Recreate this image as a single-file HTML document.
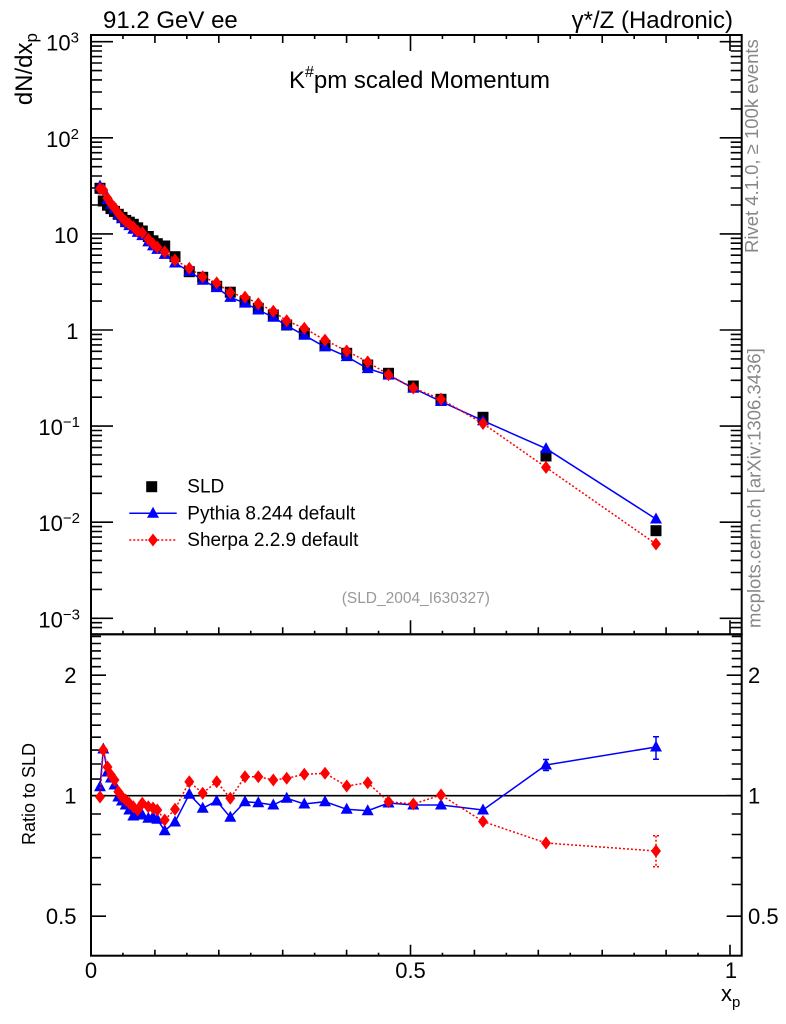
<!DOCTYPE html>
<html><head><meta charset="utf-8"><style>
html,body{margin:0;padding:0;background:#fff;}
svg{display:block;font-family:"Liberation Sans",Arial,sans-serif;}
</style></head><body>
<svg width="786" height="1024" viewBox="0 0 786 1024" xmlns="http://www.w3.org/2000/svg">
<defs>
<path id="sq" d="M-5.5,-5.5h11v11h-11z" fill="#000"/>
<path id="tr" d="M0,-6.5L6,4.5L-6,4.5Z" fill="#00f"/>
<path id="dm" d="M0,-6.5L5,0L0,6.5L-5,0Z" fill="#f00"/>
</defs>
<rect width="786" height="1024" fill="#fff"/>

<!-- top texts -->
<text x="103" y="28" font-size="24">91.2 GeV ee</text>
<text x="733" y="28" font-size="24" text-anchor="end">γ*/Z (Hadronic)</text>
<text x="289" y="88" font-size="24">K<tspan font-size="16" dy="-11">#</tspan><tspan font-size="24" dy="11">pm scaled Momentum</tspan></text>

<!-- side texts -->
<text transform="translate(32,33) rotate(-90)" text-anchor="end" font-size="24">dN/dx<tspan font-size="17" dy="5">p</tspan></text>
<text transform="translate(35,794) rotate(-90)" text-anchor="middle" font-size="18">Ratio to SLD</text>
<text transform="translate(758,253) rotate(-90)" font-size="18.5" fill="#888">Rivet 4.1.0, ≥ 100k events</text>
<text transform="translate(760.5,628) rotate(-90)" font-size="18.5" fill="#888">mcplots.cern.ch [arXiv:1306.3436]</text>

<!-- frames -->
<rect x="91" y="35" width="650.7" height="599.3" fill="none" stroke="#000" stroke-width="2"/>
<rect x="91" y="634.3" width="650.7" height="321.4" fill="none" stroke="#000" stroke-width="2"/>

<!-- main y ticks -->
<g stroke="#000" stroke-width="1.6" fill="none">
<path d="M91 41.7h22M91 137.8h22M91 233.9h22M91 330h22M91 426.1h22M91 522.2h22M91 618.3h22
M741.7 41.7h-22M741.7 137.8h-22M741.7 233.9h-22M741.7 330h-22M741.7 426.1h-22M741.7 522.2h-22M741.7 618.3h-22"/>
<path d="M91 46.1h11M91 51h11M91 56.6h11M91 63h11M91 70.6h11M91 79.9h11M91 92h11M91 108.9h11
M91 142.2h11M91 147.1h11M91 152.7h11M91 159.1h11M91 166.7h11M91 176h11M91 188h11M91 205h11
M91 238.3h11M91 243.2h11M91 248.8h11M91 255.2h11M91 262.8h11M91 272.1h11M91 284.2h11M91 301.1h11
M91 334.4h11M91 339.3h11M91 344.9h11M91 351.3h11M91 358.9h11M91 368.2h11M91 380.3h11M91 397.2h11
M91 430.5h11M91 435.4h11M91 441h11M91 447.4h11M91 455h11M91 464.3h11M91 476.4h11M91 493.3h11
M91 526.6h11M91 531.5h11M91 537.1h11M91 543.5h11M91 551.1h11M91 560.4h11M91 572.5h11M91 589.4h11
M91 622.7h11M91 627.6h11"/>
<path d="M741.7 46.1h-11M741.7 51h-11M741.7 56.6h-11M741.7 63h-11M741.7 70.6h-11M741.7 79.9h-11M741.7 92h-11M741.7 108.9h-11
M741.7 142.2h-11M741.7 147.1h-11M741.7 152.7h-11M741.7 159.1h-11M741.7 166.7h-11M741.7 176h-11M741.7 188h-11M741.7 205h-11
M741.7 238.3h-11M741.7 243.2h-11M741.7 248.8h-11M741.7 255.2h-11M741.7 262.8h-11M741.7 272.1h-11M741.7 284.2h-11M741.7 301.1h-11
M741.7 334.4h-11M741.7 339.3h-11M741.7 344.9h-11M741.7 351.3h-11M741.7 358.9h-11M741.7 368.2h-11M741.7 380.3h-11M741.7 397.2h-11
M741.7 430.5h-11M741.7 435.4h-11M741.7 441h-11M741.7 447.4h-11M741.7 455h-11M741.7 464.3h-11M741.7 476.4h-11M741.7 493.3h-11
M741.7 526.6h-11M741.7 531.5h-11M741.7 537.1h-11M741.7 543.5h-11M741.7 551.1h-11M741.7 560.4h-11M741.7 572.5h-11M741.7 589.4h-11
M741.7 622.7h-11M741.7 627.6h-11"/>
<!-- main x ticks top -->
<path d="M122.95 35v4M154.9 35v8M186.85 35v4M218.8 35v8M250.75 35v4M282.7 35v8M314.65 35v4M346.6 35v8M378.55 35v4M410.5 35v16
M442.45 35v4M474.4 35v8M506.35 35v4M538.3 35v8M570.25 35v4M602.2 35v8M634.15 35v4M666.1 35v8M698.05 35v4M730 35v16"/>
<!-- main x ticks bottom -->
<path d="M122.95 634.3v-3.5M154.9 634.3v-7M186.85 634.3v-3.5M218.8 634.3v-7M250.75 634.3v-3.5M282.7 634.3v-7M314.65 634.3v-3.5M346.6 634.3v-7M378.55 634.3v-3.5M410.5 634.3v-14
M442.45 634.3v-3.5M474.4 634.3v-7M506.35 634.3v-3.5M538.3 634.3v-7M570.25 634.3v-3.5M602.2 634.3v-7M634.15 634.3v-3.5M666.1 634.3v-7M698.05 634.3v-3.5M730 634.3v-14"/>
<!-- ratio x ticks bottom -->
<path d="M122.95 955.7v-3M154.9 955.7v-6M186.85 955.7v-3M218.8 955.7v-6M250.75 955.7v-3M282.7 955.7v-6M314.65 955.7v-3M346.6 955.7v-6M378.55 955.7v-3M410.5 955.7v-11
M442.45 955.7v-3M474.4 955.7v-6M506.35 955.7v-3M538.3 955.7v-6M570.25 955.7v-3M602.2 955.7v-6M634.15 955.7v-3M666.1 955.7v-6M698.05 955.7v-3M730 955.7v-11"/>
<!-- ratio y ticks -->
<path d="M91 675.2h15M91 795.7h15M91 916.2h15M741.7 675.2h-15M741.7 795.7h-15M741.7 916.2h-15"/>
<path d="M91 636.4h10M91 643.5h10M91 650.9h10M91 658.6h10M91 666.7h10M91 684.1h10M91 693.5h10M91 703.5h10M91 714h10M91 725.2h10M91 737.2h10M91 750.1h10M91 764h10M91 779.1h10M91 814h10M91 834.5h10M91 857.7h10M91 884.5h10
M741.7 636.4h-10M741.7 643.5h-10M741.7 650.9h-10M741.7 658.6h-10M741.7 666.7h-10M741.7 684.1h-10M741.7 693.5h-10M741.7 703.5h-10M741.7 714h-10M741.7 725.2h-10M741.7 737.2h-10M741.7 750.1h-10M741.7 764h-10M741.7 779.1h-10M741.7 814h-10M741.7 834.5h-10M741.7 857.7h-10M741.7 884.5h-10"/>
</g>

<!-- main y labels -->
<g font-size="22" text-anchor="end">
<text x="79" y="50.7">10<tspan font-size="15" dy="-8">3</tspan></text>
<text x="79" y="146.8">10<tspan font-size="15" dy="-8">2</tspan></text>
<text x="78.5" y="242.9">10</text>
<text x="78.5" y="339">1</text>
<text x="80" y="435.1">10<tspan font-size="15" dy="-8">−1</tspan></text>
<text x="80" y="531.2">10<tspan font-size="15" dy="-8">−2</tspan></text>
<text x="80" y="627.3">10<tspan font-size="15" dy="-8">−3</tspan></text>
<!-- ratio left labels -->
<text x="76.5" y="683.2">2</text>
<text x="76.5" y="803.7">1</text>
<text x="76.5" y="924.2">0.5</text>
</g>
<g font-size="22">
<text x="748" y="683.2">2</text>
<text x="748" y="803.7">1</text>
<text x="748" y="924.2">0.5</text>
</g>
<g font-size="22" text-anchor="middle">
<text x="91" y="978">0</text>
<text x="410.5" y="978">0.5</text>
<text x="731" y="978">1</text>
</g>
<text x="721" y="1001" font-size="22">x<tspan font-size="15" dy="6">p</tspan></text>

<!-- legend -->
<use href="#sq" x="151.7" y="486.7"/>
<text x="187.3" y="492.7" font-size="19">SLD</text>
<path d="M129.3 513.3H176.7" stroke="#00f" stroke-width="1.5"/>
<use href="#tr" x="153" y="513.3"/>
<text x="187.3" y="519.3" font-size="19">Pythia 8.244 default</text>
<path d="M129.3 540H176.7" stroke="#f00" stroke-width="1.5" stroke-dasharray="2,2"/>
<use href="#dm" x="153" y="540"/>
<text x="187.3" y="546" font-size="19">Sherpa 2.2.9 default</text>
<text x="341.7" y="603" font-size="15.5" fill="#999">(SLD_2004_I630327)</text>

<!-- main panel: SLD squares -->
<g>
<use href="#sq" x="100" y="188.3"/><use href="#sq" x="103.3" y="201"/><use href="#sq" x="107.5" y="205.2"/><use href="#sq" x="111" y="208.6"/>
<use href="#sq" x="114.5" y="211.4"/><use href="#sq" x="118.3" y="214.3"/><use href="#sq" x="122" y="217.4"/><use href="#sq" x="125.7" y="220.4"/>
<use href="#sq" x="129.3" y="222.2"/><use href="#sq" x="133.3" y="224.3"/><use href="#sq" x="137.7" y="227.8"/><use href="#sq" x="142.3" y="231"/>
<use href="#sq" x="148.3" y="236.5"/><use href="#sq" x="153" y="240.8"/><use href="#sq" x="157.3" y="243.7"/><use href="#sq" x="164.7" y="246"/>
<use href="#sq" x="175" y="256.7"/><use href="#sq" x="189.3" y="271.7"/><use href="#sq" x="202.7" y="277.3"/><use href="#sq" x="216.7" y="286.3"/>
<use href="#sq" x="230.3" y="292.2"/><use href="#sq" x="245" y="301.7"/><use href="#sq" x="258.3" y="308.3"/><use href="#sq" x="273.3" y="315"/>
<use href="#sq" x="286.7" y="325"/><use href="#sq" x="304.3" y="333.3"/><use href="#sq" x="325" y="345.5"/><use href="#sq" x="346.7" y="353.3"/>
<use href="#sq" x="367.7" y="365"/><use href="#sq" x="388.5" y="373.3"/><use href="#sq" x="413.3" y="386"/><use href="#sq" x="441" y="399.3"/>
<use href="#sq" x="483" y="417.3"/><use href="#sq" x="546" y="456"/><use href="#sq" x="656" y="530.7"/>
</g>

<!-- main panel: Pythia -->
<polyline fill="none" stroke="#00f" stroke-width="1.5" points="100,186.1 103.3,189.8 107.5,199.5 111,204.4 114.5,208.8 118.3,214.6 122,218.7 125.7,222.6 129.3,225.6 133.3,229.2 137.7,232.4 142.3,235.6 148.3,241.9 153,245.9 157.3,249.4 164.7,254.4 175,263 189.3,271.4 202.7,280.3 216.7,287.6 230.3,297.4 245,303.1 258.3,310 273.3,317.2 286.7,325.6 304.3,335.3 325,346.9 346.7,356.6 367.7,368.6 388.5,375.1 413.3,388.2 441,401.5 483,420.7 546,448.6 656,519"/>
<g>
<use href="#tr" x="100" y="186.1"/><use href="#tr" x="103.3" y="189.8"/><use href="#tr" x="107.5" y="199.5"/><use href="#tr" x="111" y="204.4"/>
<use href="#tr" x="114.5" y="208.8"/><use href="#tr" x="118.3" y="214.6"/><use href="#tr" x="122" y="218.7"/><use href="#tr" x="125.7" y="222.6"/>
<use href="#tr" x="129.3" y="225.6"/><use href="#tr" x="133.3" y="229.2"/><use href="#tr" x="137.7" y="232.4"/><use href="#tr" x="142.3" y="235.6"/>
<use href="#tr" x="148.3" y="241.9"/><use href="#tr" x="153" y="245.9"/><use href="#tr" x="157.3" y="249.4"/><use href="#tr" x="164.7" y="254.4"/>
<use href="#tr" x="175" y="263"/><use href="#tr" x="189.3" y="271.4"/><use href="#tr" x="202.7" y="280.3"/><use href="#tr" x="216.7" y="287.6"/>
<use href="#tr" x="230.3" y="297.4"/><use href="#tr" x="245" y="303.1"/><use href="#tr" x="258.3" y="310"/><use href="#tr" x="273.3" y="317.2"/>
<use href="#tr" x="286.7" y="325.6"/><use href="#tr" x="304.3" y="335.3"/><use href="#tr" x="325" y="346.9"/><use href="#tr" x="346.7" y="356.6"/>
<use href="#tr" x="367.7" y="368.6"/><use href="#tr" x="388.5" y="375.1"/><use href="#tr" x="413.3" y="388.2"/><use href="#tr" x="441" y="401.5"/>
<use href="#tr" x="483" y="420.7"/><use href="#tr" x="546" y="448.6"/><use href="#tr" x="656" y="519"/>
</g>

<!-- main panel: Sherpa -->
<polyline fill="none" stroke="#f00" stroke-width="1.5" stroke-dasharray="2,2" points="100,188.6 103.3,190 107.5,198.3 111,203.6 114.5,207.6 118.3,213.3 122,217.6 125.7,221.4 129.3,224 133.3,226.9 137.7,231.2 142.3,232.8 148.3,239.1 153,243.8 157.3,247.1 164.7,251.8 175,260 189.3,268.3 202.7,276.7 216.7,282.9 230.3,292.8 245,297.1 258.3,303.7 273.3,311.2 286.7,320.8 304.3,328.2 325,340.1 346.7,351 367.7,361.9 388.5,374.7 413.3,388 441,399.1 483,423.5 546,467.4 656,544"/>
<g>
<use href="#dm" x="100" y="188.6"/><use href="#dm" x="103.3" y="190"/><use href="#dm" x="107.5" y="198.3"/><use href="#dm" x="111" y="203.6"/>
<use href="#dm" x="114.5" y="207.6"/><use href="#dm" x="118.3" y="213.3"/><use href="#dm" x="122" y="217.6"/><use href="#dm" x="125.7" y="221.4"/>
<use href="#dm" x="129.3" y="224"/><use href="#dm" x="133.3" y="226.9"/><use href="#dm" x="137.7" y="231.2"/><use href="#dm" x="142.3" y="232.8"/>
<use href="#dm" x="148.3" y="239.1"/><use href="#dm" x="153" y="243.8"/><use href="#dm" x="157.3" y="247.1"/><use href="#dm" x="164.7" y="251.8"/>
<use href="#dm" x="175" y="260"/><use href="#dm" x="189.3" y="268.3"/><use href="#dm" x="202.7" y="276.7"/><use href="#dm" x="216.7" y="282.9"/>
<use href="#dm" x="230.3" y="292.8"/><use href="#dm" x="245" y="297.1"/><use href="#dm" x="258.3" y="303.7"/><use href="#dm" x="273.3" y="311.2"/>
<use href="#dm" x="286.7" y="320.8"/><use href="#dm" x="304.3" y="328.2"/><use href="#dm" x="325" y="340.1"/><use href="#dm" x="346.7" y="351"/>
<use href="#dm" x="367.7" y="361.9"/><use href="#dm" x="388.5" y="374.7"/><use href="#dm" x="413.3" y="388"/><use href="#dm" x="441" y="399.1"/>
<use href="#dm" x="483" y="423.5"/><use href="#dm" x="546" y="467.4"/><use href="#dm" x="656" y="544"/>
</g>

<!-- ratio panel -->
<path d="M91 795.7H741.7" stroke="#000" stroke-width="1.6"/>

<polyline fill="none" stroke="#00f" stroke-width="1.5" points="100,786.7 103.3,749 107.5,772 111,778 114.5,785 118.3,797 122,801 125.7,805 129.3,810 133.3,816 137.7,815 142.3,815 148.3,818.3 153,817 157.3,819.3 164.7,830.7 175,822 189.3,794.3 202.7,808.3 216.7,801 230.3,817.3 245,801.7 258.3,802.7 273.3,805 286.7,798.3 304.3,804 325,801.7 346.7,809.3 367.7,810.7 388.5,803 413.3,805 441,805 483,810 546,765 656,747"/>
<g stroke="#00f" stroke-width="1.5" fill="none">
<path d="M546 759.5V770.5M543 759.5h6M543 770.5h6M656 736.7V759.3M653 736.7h6M653 759.3h6"/>
</g>
<g>
<use href="#tr" x="100" y="786.7"/><use href="#tr" x="103.3" y="749"/><use href="#tr" x="107.5" y="772"/><use href="#tr" x="111" y="778"/>
<use href="#tr" x="114.5" y="785"/><use href="#tr" x="118.3" y="797"/><use href="#tr" x="122" y="801"/><use href="#tr" x="125.7" y="805"/>
<use href="#tr" x="129.3" y="810"/><use href="#tr" x="133.3" y="816"/><use href="#tr" x="137.7" y="815"/><use href="#tr" x="142.3" y="815"/>
<use href="#tr" x="148.3" y="818.3"/><use href="#tr" x="153" y="817"/><use href="#tr" x="157.3" y="819.3"/><use href="#tr" x="164.7" y="830.7"/>
<use href="#tr" x="175" y="822"/><use href="#tr" x="189.3" y="794.3"/><use href="#tr" x="202.7" y="808.3"/><use href="#tr" x="216.7" y="801"/>
<use href="#tr" x="230.3" y="817.3"/><use href="#tr" x="245" y="801.7"/><use href="#tr" x="258.3" y="802.7"/><use href="#tr" x="273.3" y="805"/>
<use href="#tr" x="286.7" y="798.3"/><use href="#tr" x="304.3" y="804"/><use href="#tr" x="325" y="801.7"/><use href="#tr" x="346.7" y="809.3"/>
<use href="#tr" x="367.7" y="810.7"/><use href="#tr" x="388.5" y="803"/><use href="#tr" x="413.3" y="805"/><use href="#tr" x="441" y="805"/>
<use href="#tr" x="483" y="810"/><use href="#tr" x="546" y="765"/><use href="#tr" x="656" y="747"/>
</g>

<polyline fill="none" stroke="#f00" stroke-width="1.5" stroke-dasharray="2,2" points="100,797 103.3,750 107.5,767 111,775 114.5,780 118.3,791.7 122,796.7 125.7,800 129.3,803.3 133.3,806.7 137.7,810 142.3,803.3 148.3,806.7 153,808 157.3,810 164.7,820 175,809.3 189.3,781.7 202.7,793.3 216.7,781.7 230.3,798.3 245,776.7 258.3,776.7 273.3,780 286.7,778.3 304.3,774.3 325,773.3 346.7,786 367.7,782.7 388.5,801.7 413.3,804 441,795 483,821.5 546,843 656,851"/>
<g stroke="#f00" stroke-width="1.5" fill="none" stroke-dasharray="2,2">
<path d="M546 837V849M656 835.7V866.7M653 835.7h6M653 866.7h6"/>
</g>
<g>
<use href="#dm" x="100" y="797"/><use href="#dm" x="103.3" y="750"/><use href="#dm" x="107.5" y="767"/><use href="#dm" x="111" y="775"/>
<use href="#dm" x="114.5" y="780"/><use href="#dm" x="118.3" y="791.7"/><use href="#dm" x="122" y="796.7"/><use href="#dm" x="125.7" y="800"/>
<use href="#dm" x="129.3" y="803.3"/><use href="#dm" x="133.3" y="806.7"/><use href="#dm" x="137.7" y="810"/><use href="#dm" x="142.3" y="803.3"/>
<use href="#dm" x="148.3" y="806.7"/><use href="#dm" x="153" y="808"/><use href="#dm" x="157.3" y="810"/><use href="#dm" x="164.7" y="820"/>
<use href="#dm" x="175" y="809.3"/><use href="#dm" x="189.3" y="781.7"/><use href="#dm" x="202.7" y="793.3"/><use href="#dm" x="216.7" y="781.7"/>
<use href="#dm" x="230.3" y="798.3"/><use href="#dm" x="245" y="776.7"/><use href="#dm" x="258.3" y="776.7"/><use href="#dm" x="273.3" y="780"/>
<use href="#dm" x="286.7" y="778.3"/><use href="#dm" x="304.3" y="774.3"/><use href="#dm" x="325" y="773.3"/><use href="#dm" x="346.7" y="786"/>
<use href="#dm" x="367.7" y="782.7"/><use href="#dm" x="388.5" y="801.7"/><use href="#dm" x="413.3" y="804"/><use href="#dm" x="441" y="795"/>
<use href="#dm" x="483" y="821.5"/><use href="#dm" x="546" y="843"/><use href="#dm" x="656" y="851"/>
</g>
</svg>
</body></html>
